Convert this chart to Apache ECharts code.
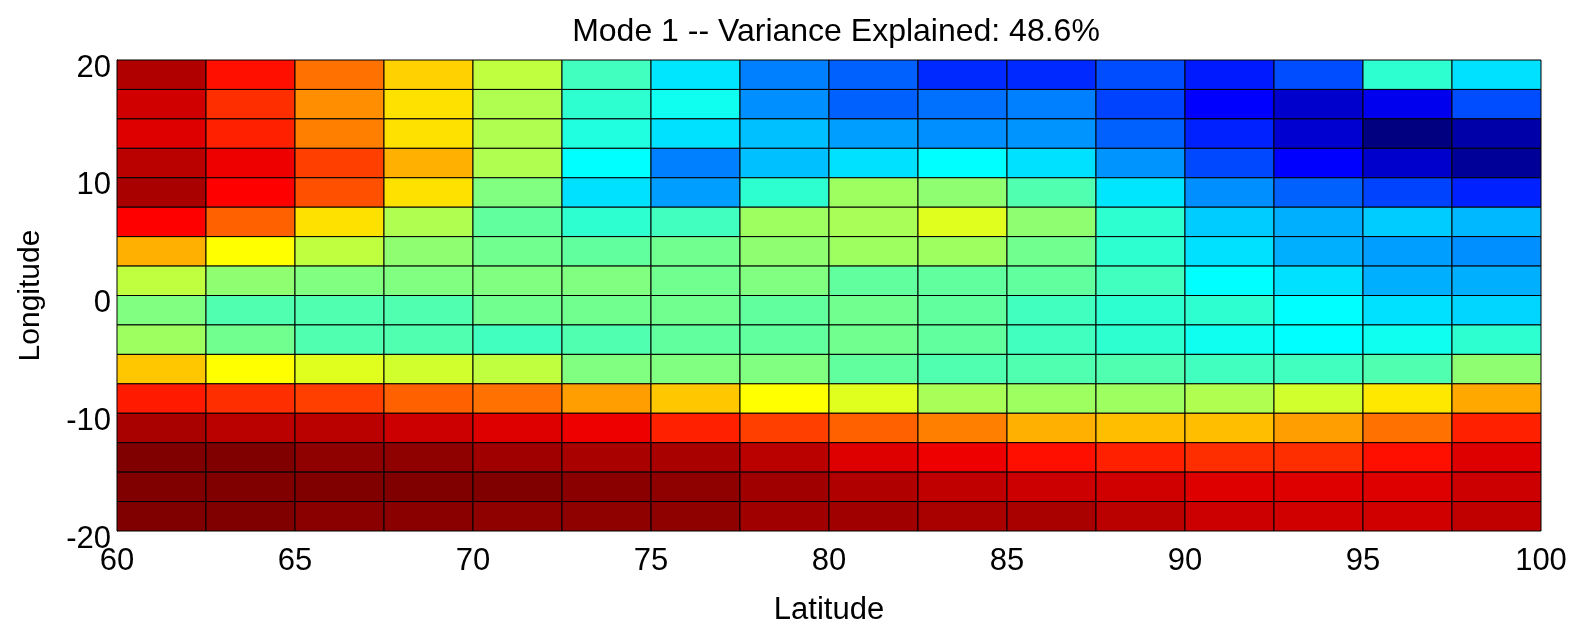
<!DOCTYPE html>
<html>
<head>
<meta charset="utf-8">
<title>Mode 1</title>
<script src="https://cdn.jsdelivr.net/npm/echarts@6/dist/echarts.min.js"></script>
<style>
  html, body { margin: 0; padding: 0; background: #ffffff; }
  #chart { width: 1577px; height: 626px; }
</style>
</head>
<body>
<div id="chart"></div>
<script>
// Cell left edges along latitude (x) and bottom edges along longitude (y), top row first
const latEdges = [60, 62.5, 65, 67.5, 70, 72.5, 75, 77.5, 80, 82.5, 85, 87.5, 90, 92.5, 95, 97.5];
const lonEdges = [17.5, 15, 12.5, 10, 7.5, 5, 2.5, 0, -2.5, -5, -7.5, -10, -12.5, -15, -17.5, -20];
const cellSize = 2.5;

const latTicks = [60, 65, 70, 75, 80, 85, 90, 95, 100];
const lonTicks = [-20, -10, 0, 10, 20];

// Mode 1 pattern, normalised to the colour scale (0 = low, 1 = high); one row per longitude band
const mode1 = [
  [0.953, 0.860, 0.765, 0.670, 0.563, 0.438, 0.350, 0.250, 0.220, 0.165, 0.165, 0.200, 0.150, 0.200, 0.420, 0.345],
  [0.920, 0.830, 0.735, 0.655, 0.547, 0.420, 0.390, 0.265, 0.220, 0.235, 0.250, 0.190, 0.125, 0.075, 0.108, 0.200],
  [0.907, 0.844, 0.750, 0.655, 0.547, 0.406, 0.345, 0.313, 0.280, 0.265, 0.270, 0.220, 0.157, 0.080, 0.000, 0.040],
  [0.942, 0.892, 0.813, 0.703, 0.547, 0.375, 0.250, 0.313, 0.345, 0.375, 0.345, 0.270, 0.195, 0.125, 0.075, 0.025],
  [0.960, 0.875, 0.797, 0.655, 0.500, 0.345, 0.280, 0.420, 0.530, 0.515, 0.453, 0.350, 0.265, 0.220, 0.190, 0.157],
  [0.875, 0.780, 0.655, 0.547, 0.470, 0.420, 0.438, 0.530, 0.540, 0.595, 0.515, 0.420, 0.325, 0.297, 0.325, 0.305],
  [0.703, 0.625, 0.563, 0.515, 0.485, 0.470, 0.485, 0.515, 0.530, 0.530, 0.485, 0.420, 0.345, 0.297, 0.280, 0.265],
  [0.563, 0.515, 0.500, 0.500, 0.500, 0.500, 0.485, 0.500, 0.470, 0.470, 0.470, 0.438, 0.375, 0.345, 0.297, 0.297],
  [0.500, 0.453, 0.453, 0.453, 0.485, 0.485, 0.485, 0.470, 0.485, 0.470, 0.438, 0.420, 0.420, 0.375, 0.345, 0.335],
  [0.530, 0.485, 0.453, 0.453, 0.438, 0.453, 0.470, 0.470, 0.485, 0.470, 0.438, 0.420, 0.390, 0.375, 0.390, 0.420],
  [0.680, 0.625, 0.595, 0.580, 0.563, 0.500, 0.500, 0.500, 0.470, 0.453, 0.453, 0.453, 0.438, 0.438, 0.453, 0.515],
  [0.850, 0.830, 0.813, 0.780, 0.765, 0.720, 0.680, 0.625, 0.595, 0.540, 0.530, 0.530, 0.547, 0.580, 0.648, 0.710],
  [0.960, 0.942, 0.942, 0.925, 0.907, 0.892, 0.844, 0.813, 0.780, 0.750, 0.703, 0.688, 0.688, 0.720, 0.765, 0.844],
  [1.000, 1.000, 0.985, 0.985, 0.968, 0.960, 0.960, 0.942, 0.907, 0.892, 0.860, 0.844, 0.830, 0.830, 0.860, 0.907],
  [1.000, 1.000, 1.000, 1.000, 1.000, 0.990, 0.985, 0.968, 0.953, 0.937, 0.925, 0.920, 0.907, 0.907, 0.907, 0.925],
  [1.000, 1.000, 0.990, 0.990, 0.985, 0.985, 0.985, 0.968, 0.968, 0.960, 0.960, 0.942, 0.925, 0.920, 0.920, 0.937]
];

// Jet colour map stops, evenly spaced from 0 to 1
const jet = ['#000080', '#0000ff', '#0080ff', '#00ffff', '#80ff80', '#ffff00', '#ff8000', '#ff0000', '#800000'];

const cells = [];
lonEdges.forEach(function (lon, r) {
  latEdges.forEach(function (lat, c) {
    cells.push([lat, lon, mode1[r][c]]);
  });
});

const fontFamily = '"Liberation Sans", Arial, Helvetica, sans-serif';
const chart = echarts.init(document.getElementById('chart'), null, { renderer: 'canvas' });

chart.setOption({
  backgroundColor: '#ffffff',
  animation: false,
  title: {
    text: 'Mode 1 -- Variance Explained: 48.6%',
    left: 831,
    top: 11,
    textAlign: 'center',
    textStyle: { fontFamily: fontFamily, fontSize: 32, fontWeight: 'normal', color: '#000' }
  },
  grid: { left: 117, right: 36, top: 60, bottom: 95, outerBoundsMode: 'none', containLabel: false },
  xAxis: {
    type: 'value',
    min: 60,
    max: 100,
    interval: 5,
    name: 'Latitude',
    nameLocation: 'middle',
    nameGap: 64,
    nameTextStyle: { fontFamily: fontFamily, fontSize: 31, color: '#000' },
    axisLine: { show: true, lineStyle: { color: '#000' } },
    axisTick: { show: false },
    splitLine: { show: false },
    axisLabel: {
      fontFamily: fontFamily, fontSize: 31, color: '#000', margin: 15,
      formatter: function (v) { return latTicks.indexOf(v) >= 0 ? String(v) : ''; }
    }
  },
  yAxis: {
    type: 'value',
    min: -20,
    max: 20,
    interval: 10,
    name: 'Longitude',
    nameLocation: 'middle',
    nameGap: 71,
    nameTextStyle: { fontFamily: fontFamily, fontSize: 30, color: '#000' },
    axisLine: { show: true, lineStyle: { color: '#000' } },
    axisTick: { show: false },
    splitLine: { show: false },
    axisLabel: {
      fontFamily: fontFamily, fontSize: 31, color: '#000', margin: 6,
      verticalAlign: 'top',
      lineHeight: 16,
      formatter: function (v) { return lonTicks.indexOf(v) >= 0 ? String(v) : ''; }
    }
  },
  visualMap: {
    show: false,
    type: 'continuous',
    dimension: 2,
    seriesIndex: 0,
    min: 0,
    max: 1,
    inRange: { color: jet }
  },
  series: [{
    type: 'custom',
    data: cells,
    encode: { x: 0, y: 1 },
    renderItem: function (params, api) {
      const x0 = api.value(0);
      const y0 = api.value(1);
      const topLeft = api.coord([x0, y0 + cellSize]);
      const bottomRight = api.coord([x0 + cellSize, y0]);
      return {
        type: 'rect',
        shape: {
          x: topLeft[0],
          y: topLeft[1],
          width: bottomRight[0] - topLeft[0],
          height: bottomRight[1] - topLeft[1]
        },
        style: { fill: api.visual('color'), stroke: '#000', lineWidth: 1 }
      };
    }
  }]
});
</script>
</body>
</html>
